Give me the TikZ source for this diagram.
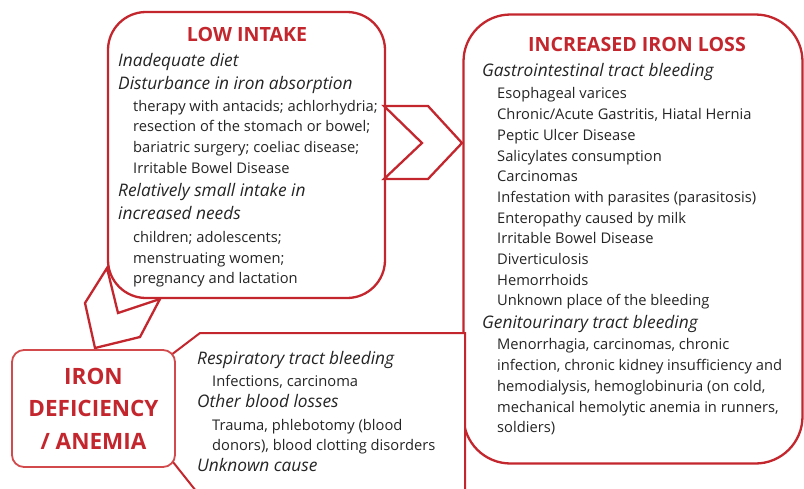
\documentclass[tikz,border=0pt]{standalone}
\usepackage{fontspec}
\setmainfont{Open Sans}
\usepackage{tikz}

\definecolor{lossred}{HTML}{C4262E}
\definecolor{softred}{HTML}{D24A4C}
\definecolor{txtgray}{HTML}{252525}

\newcommand{\hd}[1]{{\fontsize{17.3}{20.7}\selectfont\itshape #1}}
\newcommand{\ind}{\hspace*{15pt}}

\tikzset{
  box/.style={draw=lossred, line width=2.3pt, fill=white, inner sep=0pt},
  arrowline/.style={draw=lossred, line width=2.3pt, line join=miter},
  title/.style={text=lossred, font=\bfseries\fontsize{19.6}{22}\selectfont, anchor=base, inner sep=0pt},
  textblock/.style={text=txtgray, align=left, anchor=north west, inner sep=0pt,
                    font=\fontsize{14.7}{20.7}\selectfont}
}

\begin{document}
\begin{tikzpicture}[x=1pt,y=-1pt]
  \useasboundingbox (0,0) rectangle (804,488);
  \clip (0,0) rectangle (804,488);

  % increased iron loss
  \node[box, rounded corners=47pt, minimum width=339pt, minimum height=449pt] (loss) at (633,239) {};
  \node[title] (losstitle) at (637,51) {INCREASED IRON LOSS};
  \node[textblock] (losstext) at (482,63.6) {%
    \hd{Gastrointestinal tract bleeding}\\[1.3pt]
    \ind Esophageal varices\\
    \ind Chronic/Acute Gastritis, Hiatal Hernia\\
    \ind Peptic Ulcer Disease\\
    \ind Salicylates consumption\\
    \ind Carcinomas\\
    \ind Infestation with parasites (parasitosis)\\
    \ind Enteropathy caused by milk\\
    \ind Irritable Bowel Disease\\
    \ind Diverticulosis\\
    \ind Hemorrhoids\\
    \ind Unknown place of the bleeding\\[1.6pt]
    \hd{Genitourinary tract bleeding}\\[1pt]
    \ind Menorrhagia, carcinomas, chronic\\
    \ind infection, chronic kidney insufficiency and\\
    \ind hemodialysis, hemoglobinuria (on cold,\\
    \ind mechanical hemolytic anemia in runners,\\
    \ind soldiers)};

  % other losses, arrow shaped panel
  \draw[box, line width=2pt] (465,333) -- (200,333) -- (150,371) -- (150,433) -- (200,496) -- (465,496) -- cycle;
  \node[textblock] (othertext) at (197,350.8) {%
    \hd{Respiratory tract bleeding}\\[1.3pt]
    \ind Infections, carcinoma\\[0.3pt]
    \hd{Other blood losses}\\[2.3pt]
    \ind Trauma, phlebotomy (blood\\
    \ind donors), blood clotting disorders\\
    \hd{Unknown cause}};

  % low intake
  \node[box, rounded corners=38pt, minimum width=277pt, minimum height=286pt] (intake) at (246.5,155) {};
  \node[title] (intaketitle) at (247,41) {LOW INTAKE};
  \node[textblock] (intaketext) at (118,53.2) {%
    \hd{Inadequate diet}\\[2.3pt]
    \hd{Disturbance in iron absorption}\\[1pt]
    \ind therapy with antacids; achlorhydria;\\
    \ind resection of the stomach or bowel;\\
    \ind bariatric surgery; coeliac disease;\\
    \ind Irritable Bowel Disease\\[2.3pt]
    \hd{Relatively small intake in}\\[2.3pt]
    \hd{increased needs}\\[2.5pt]
    \ind children; adolescents;\\
    \ind menstruating women;\\
    \ind pregnancy and lactation};

  % chevrons
  \draw[arrowline] (384,106) -- (428,106) -- (462,143) -- (428,179) -- (384,179) -- (422,143) -- cycle;
  \draw[arrowline] (107,268) -- (85,303) -- (95,348) -- (140,337) -- (160,299) -- (118,313) -- cycle;

  % iron deficiency
  \node[box, draw=softred, line width=1.8pt, rounded corners=12pt, minimum width=163pt, minimum height=117pt,
        text=lossred, align=center, font=\bfseries\fontsize{22.5}{32.5}\selectfont] (deficiency) at (93.5,408.5)
        {IRON\\DEFICIENCY\\/ ANEMIA};
\end{tikzpicture}
\end{document}
